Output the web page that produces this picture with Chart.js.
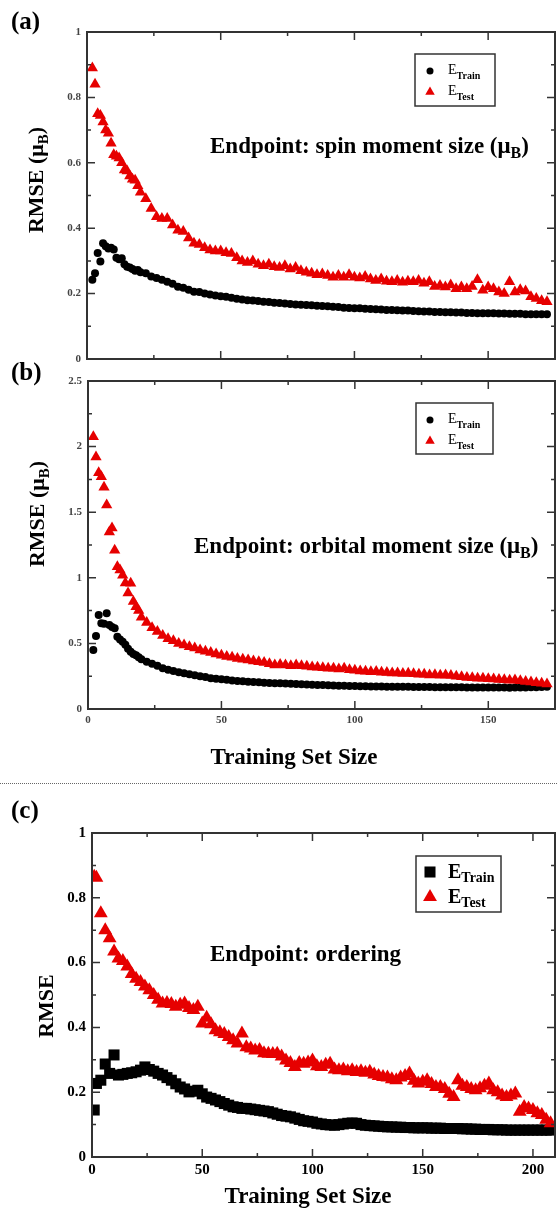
<!DOCTYPE html>
<html>
<head>
<meta charset="utf-8">
<script src="https://cdn.jsdelivr.net/npm/chart.js@4.4.1/dist/chart.umd.min.js"></script>
<style>
  body { margin: 0; background: #fff; width: 557px; height: 1212px; position: relative; overflow: hidden; }
  canvas.panel { position: absolute; left: 0; }
  #sep { position: absolute; left: 0; top: 783px; width: 557px; border-top: 1px dotted #666; }
</style>
</head>
<body>
<canvas id="chartA" class="panel" width="557" height="372" style="top:0"></canvas>
<canvas id="chartB" class="panel" width="557" height="430" style="top:345px"></canvas>
<div id="sep"></div>
<canvas id="chartC" class="panel" width="557" height="417" style="top:795px"></canvas>
<script>
// ==========================================
// 1. DATA
// ==========================================
// training set sizes used in panels (a) and (b)
const abSizes = [
  2, 3, 4, 5, 6, 7, 8, 9, 10, 11,
  12, 13, 14, 15, 16, 17, 18, 19, 20, 22,
  24, 26, 28, 30, 32, 34, 36, 38, 40, 42,
  44, 46, 48, 50, 52, 54, 56, 58, 60, 62,
  64, 66, 68, 70, 72, 74, 76, 78, 80, 82,
  84, 86, 88, 90, 92, 94, 96, 98, 100, 102,
  104, 106, 108, 110, 112, 114, 116, 118, 120, 122,
  124, 126, 128, 130, 132, 134, 136, 138, 140, 142,
  144, 146, 148, 150, 152, 154, 156, 158, 160, 162,
  164, 166, 168, 170, 172
];

// (a) spin moment size
const spinTest = [
  0.89, 0.84, 0.75, 0.745, 0.725, 0.70, 0.69, 0.66, 0.625, 0.62,
  0.615, 0.60, 0.578, 0.575, 0.56, 0.55, 0.547, 0.53, 0.51, 0.49,
  0.46, 0.435, 0.43, 0.43, 0.41, 0.394, 0.39, 0.37, 0.354, 0.35,
  0.34, 0.333, 0.33, 0.33, 0.325, 0.323, 0.31, 0.30, 0.295, 0.30,
  0.29, 0.285, 0.29, 0.282, 0.28, 0.285, 0.275, 0.28, 0.27, 0.265,
  0.262, 0.258, 0.26, 0.255, 0.25, 0.255, 0.25, 0.258, 0.25, 0.248,
  0.252, 0.245, 0.24, 0.245, 0.238, 0.236, 0.24, 0.235, 0.238, 0.236,
  0.24, 0.232, 0.236, 0.222, 0.225, 0.22, 0.226, 0.215, 0.22, 0.215,
  0.222, 0.242, 0.21, 0.22, 0.215, 0.205, 0.2, 0.236, 0.205, 0.212,
  0.208, 0.19, 0.185, 0.178, 0.175
];
const spinTrain = [
  0.242, 0.262, 0.324, 0.298, 0.354, 0.345, 0.338, 0.34, 0.335, 0.31,
  0.305, 0.308, 0.29, 0.282, 0.28, 0.275, 0.27, 0.272, 0.265, 0.262,
  0.252, 0.248, 0.242, 0.236, 0.23, 0.221, 0.218, 0.212, 0.206, 0.205,
  0.2, 0.197, 0.194, 0.192, 0.19, 0.187, 0.184, 0.182, 0.18, 0.179,
  0.177, 0.175, 0.174, 0.172, 0.171, 0.17, 0.168, 0.167, 0.166, 0.165,
  0.164, 0.163, 0.162, 0.161, 0.16, 0.159, 0.157, 0.156, 0.155, 0.155,
  0.154, 0.153, 0.152, 0.151, 0.15, 0.15, 0.149, 0.148, 0.148, 0.147,
  0.146, 0.145, 0.145, 0.144, 0.144, 0.143, 0.143, 0.142, 0.142, 0.141,
  0.141, 0.14, 0.14, 0.14, 0.14, 0.139, 0.139, 0.138, 0.138, 0.138,
  0.137, 0.137, 0.137, 0.137, 0.137
];

// (b) orbital moment size
const orbTest = [
  2.075, 1.92, 1.80, 1.77, 1.69, 1.555, 1.35, 1.38, 1.21, 1.085,
  1.06, 1.02, 0.96, 0.884, 0.958, 0.82, 0.78, 0.75, 0.70, 0.66,
  0.62, 0.59, 0.56, 0.535, 0.52, 0.50, 0.488, 0.475, 0.465, 0.45,
  0.44, 0.43, 0.42, 0.41, 0.40, 0.395, 0.385, 0.38, 0.373, 0.365,
  0.36, 0.355, 0.345, 0.335, 0.34, 0.335, 0.33, 0.335, 0.33, 0.325,
  0.32, 0.318, 0.315, 0.31, 0.31, 0.305, 0.31, 0.30, 0.295, 0.29,
  0.288, 0.284, 0.285, 0.28, 0.278, 0.275, 0.275, 0.27, 0.272, 0.268,
  0.265, 0.265, 0.26, 0.262, 0.258, 0.259, 0.255, 0.25, 0.245, 0.24,
  0.238, 0.234, 0.235, 0.23, 0.228, 0.225, 0.222, 0.22, 0.221, 0.215,
  0.21, 0.205, 0.2, 0.196, 0.19
];
const orbTrain = [
  0.45, 0.556, 0.716, 0.653, 0.65, 0.729, 0.64, 0.625, 0.615, 0.551,
  0.53, 0.513, 0.49, 0.46, 0.437, 0.42, 0.41, 0.395, 0.38, 0.361,
  0.345, 0.33, 0.31, 0.30, 0.29, 0.28, 0.272, 0.265, 0.258, 0.25,
  0.243, 0.234, 0.23, 0.226, 0.222, 0.218, 0.214, 0.211, 0.208, 0.205,
  0.203, 0.2, 0.198, 0.197, 0.196, 0.195, 0.193, 0.19, 0.189, 0.187,
  0.185, 0.183, 0.182, 0.181, 0.18, 0.178, 0.177, 0.176, 0.175, 0.174,
  0.173, 0.172, 0.171, 0.171, 0.17, 0.17, 0.17, 0.169, 0.169, 0.168,
  0.168, 0.167, 0.167, 0.166, 0.166, 0.165, 0.165, 0.165, 0.165, 0.164,
  0.164, 0.164, 0.163, 0.163, 0.163, 0.163, 0.163, 0.162, 0.163, 0.163,
  0.164, 0.165, 0.166, 0.168, 0.17
];

// (c) ordering
const ordSizes = [
  1, 2, 4, 6, 8, 10, 12, 14, 16, 18,
  20, 22, 24, 26, 28, 30, 32, 34, 36, 38,
  40, 42, 44, 46, 48, 50, 52, 54, 56, 58,
  60, 62, 64, 66, 68, 70, 72, 74, 76, 78,
  80, 82, 84, 86, 88, 90, 92, 94, 96, 98,
  100, 102, 104, 106, 108, 110, 112, 114, 116, 118,
  120, 122, 124, 126, 128, 130, 132, 134, 136, 138,
  140, 142, 144, 146, 148, 150, 152, 154, 156, 158,
  160, 162, 164, 166, 168, 170, 172, 174, 176, 178,
  180, 182, 184, 186, 188, 190, 192, 194, 196, 198,
  200, 202, 204, 206, 208
];
const ordTest = [
  0.865, 0.862, 0.752, 0.70, 0.675, 0.634, 0.613, 0.605, 0.588, 0.565,
  0.55, 0.54, 0.526, 0.515, 0.50, 0.485, 0.474, 0.475, 0.472, 0.464,
  0.47, 0.474, 0.46, 0.454, 0.464, 0.412, 0.43, 0.41, 0.391, 0.385,
  0.38, 0.37, 0.36, 0.35, 0.381, 0.339, 0.335, 0.329, 0.33, 0.32,
  0.319, 0.318, 0.319, 0.31, 0.298, 0.29, 0.278, 0.29, 0.288, 0.292,
  0.298, 0.28, 0.278, 0.285, 0.288, 0.27, 0.268, 0.27, 0.265, 0.268,
  0.262, 0.265, 0.26, 0.263, 0.255, 0.25, 0.247, 0.245, 0.24, 0.237,
  0.245, 0.25, 0.258, 0.235, 0.227, 0.232, 0.237, 0.225, 0.216, 0.216,
  0.21, 0.195, 0.185, 0.237, 0.22, 0.216, 0.21, 0.206, 0.212, 0.22,
  0.227, 0.206, 0.2, 0.19, 0.185, 0.19, 0.196, 0.14, 0.154, 0.15,
  0.145, 0.135, 0.13, 0.115, 0.104
];
const ordTrain = [
  0.145, 0.227, 0.237, 0.287, 0.258, 0.315, 0.253, 0.255, 0.258, 0.26,
  0.263, 0.268, 0.278, 0.27, 0.265, 0.258, 0.253, 0.245, 0.237, 0.226,
  0.216, 0.21, 0.201, 0.203, 0.206, 0.195, 0.185, 0.181, 0.176, 0.171,
  0.165, 0.16, 0.155, 0.153, 0.15, 0.15, 0.148, 0.146, 0.144, 0.142,
  0.14, 0.136, 0.132, 0.128, 0.126, 0.124, 0.12, 0.116, 0.112, 0.11,
  0.108, 0.104, 0.102, 0.1, 0.099, 0.098, 0.1, 0.102, 0.104, 0.105,
  0.104, 0.1, 0.098, 0.097, 0.096, 0.095, 0.094, 0.093, 0.093, 0.092,
  0.092, 0.091, 0.091, 0.09, 0.09, 0.09, 0.09, 0.089, 0.089, 0.089,
  0.088, 0.088, 0.088, 0.088, 0.087, 0.087, 0.086, 0.086, 0.085, 0.085,
  0.085, 0.084, 0.084, 0.084, 0.083, 0.083, 0.083, 0.083, 0.083, 0.083,
  0.083, 0.083, 0.083, 0.083, 0.083
];

// ==========================================
// 2. HELPERS
// ==========================================
const SERIF = '"Liberation Serif", "Times New Roman", serif';
const RED = '#e60000';
const font = (px, bold = true) => `${bold ? 'bold ' : ''}${px}px ${SERIF}`;

function toPoints(xs, ys) {
  return xs.map((x, i) => ({ x: x, y: ys[i] }));
}

// draws text made of pieces [text, font, dy] (used for subscripts)
function drawRich(ctx, parts, x, y, opts = {}) {
  ctx.save();
  ctx.translate(x, y);
  if (opts.rotate) ctx.rotate(-Math.PI / 2);
  ctx.textAlign = 'left';
  ctx.textBaseline = 'alphabetic';
  ctx.fillStyle = '#000';
  let w = 0;
  parts.forEach(p => { ctx.font = p[1]; w += ctx.measureText(p[0]).width; });
  let cx = opts.center ? -w / 2 : 0;
  parts.forEach(p => {
    ctx.font = p[1];
    ctx.fillText(p[0], cx, p[2] || 0);
    cx += ctx.measureText(p[0]).width;
  });
  ctx.restore();
}

function drawMarker(ctx, style, x, y, r, color) {
  ctx.fillStyle = color;
  ctx.beginPath();
  if (style === 'circle') {
    ctx.arc(x, y, r, 0, Math.PI * 2);
  } else if (style === 'rect') {
    const s = r * Math.SQRT1_2;
    ctx.rect(x - s, y - s, 2 * s, 2 * s);
  } else {
    ctx.moveTo(x, y - r);
    ctx.lineTo(x + r * 0.866, y + r * 0.5);
    ctx.lineTo(x - r * 0.866, y + r * 0.5);
    ctx.closePath();
  }
  ctx.fill();
}

// frame, inward ticks, titles, annotation and legend box of each panel
const panelDeco = {
  id: 'panelDeco',
  afterDraw(chart, args, o) {
    const ctx = chart.ctx;
    const a = chart.chartArea;
    const xs = chart.scales.x;
    const ys = chart.scales.y;

    const marks = (scale, minor) => {
      const major = scale.ticks.map(t => t.value);
      const out = major.map(v => [v, 8]);
      for (let i = 0; ; i++) {
        const v = scale.min + i * minor;
        if (v > scale.max + 1e-9) break;
        if (!major.some(m => Math.abs(m - v) < 1e-9)) out.push([v, 4]);
      }
      return out;
    };

    ctx.save();
    ctx.strokeStyle = '#333';
    ctx.lineWidth = 1.5;
    ctx.beginPath();
    marks(xs, o.xMinor).forEach(([v, len]) => {
      const px = xs.getPixelForValue(v);
      if (px <= a.left + 1 || px >= a.right - 1) return;
      ctx.moveTo(px, a.bottom); ctx.lineTo(px, a.bottom - len);
      ctx.moveTo(px, a.top); ctx.lineTo(px, a.top + len);
    });
    marks(ys, o.yMinor).forEach(([v, len]) => {
      const py = ys.getPixelForValue(v);
      if (py <= a.top + 1 || py >= a.bottom - 1) return;
      ctx.moveTo(a.left, py); ctx.lineTo(a.left + len, py);
      ctx.moveTo(a.right, py); ctx.lineTo(a.right - len, py);
    });
    ctx.stroke();
    ctx.lineWidth = 2;
    ctx.strokeRect(a.left, a.top, a.width, a.height);

    // everything below is placed in page coordinates
    ctx.translate(0, -o.top);

    drawRich(ctx, [[o.label.text, font(25)]], o.label.x, o.label.y);
    drawRich(ctx, o.yTitle.parts, o.yTitle.x, o.yTitle.y, { rotate: true, center: true });
    drawRich(ctx, o.note.parts, o.note.x, o.note.y);
    if (o.xTitle) {
      drawRich(ctx, [['Training Set Size', font(23)]], o.xTitle.x, o.xTitle.y, { center: true });
    }

    const lg = o.legend;
    ctx.strokeStyle = '#333';
    ctx.lineWidth = 1.5;
    ctx.strokeRect(lg.box[0], lg.box[1], lg.box[2], lg.box[3]);
    chart.data.datasets.forEach((ds, i) => {
      const row = lg.rows[i];
      drawMarker(ctx, ds.pointStyle, lg.mx, row.my, row.r, ds.backgroundColor);
      drawRich(ctx, [['E', lg.eFont, lg.eDy], [row.sub, lg.subFont, lg.subDy]], lg.ex, row.my);
    });
    ctx.restore();
  }
};

// "1", "0.8", "2.5" ... as in the original axes
const plainNumber = (v) => String(Number(v.toFixed(2)));

function makePanel(id, sizes, train, test, cfg) {
  return new Chart(document.getElementById(id), {
    type: 'scatter',
    data: {
      datasets: [
        {
          label: 'E Train',
          data: toPoints(sizes, train),
          pointStyle: cfg.trainStyle,
          pointRadius: cfg.trainR,
          backgroundColor: '#000',
          borderColor: '#000',
          borderWidth: 0,
          order: 1
        },
        {
          label: 'E Test',
          data: toPoints(sizes, test),
          pointStyle: 'triangle',
          pointRadius: cfg.testR,
          backgroundColor: RED,
          borderColor: RED,
          borderWidth: 0,
          order: 0
        }
      ]
    },
    options: {
      responsive: false,
      animation: false,
      events: [],
      // no automatic room for marker overflow: the plot box is fixed by padding
      layout: { padding: cfg.padding, autoPadding: false },
      plugins: {
        legend: { display: false },
        tooltip: { enabled: false },
        panelDeco: cfg.deco
      },
      scales: {
        x: {
          type: 'linear',
          min: 0,
          max: cfg.xMax,
          bounds: 'data',
          grid: { display: false, drawTicks: false },
          border: { display: false },
          ticks: {
            display: cfg.xLabels,
            stepSize: 50,
            maxRotation: 0,
            padding: cfg.xPad,
            color: cfg.tickColor,
            font: { family: SERIF, size: cfg.tickSize, weight: 'bold' },
            callback: plainNumber
          },
          // only the round sizes carry a label, not the axis end
          afterBuildTicks: (s) => { s.ticks = s.ticks.filter(t => t.value % 50 === 0); },
          afterFit: (s) => {
            s.height = cfg.xH;
            s.paddingLeft = 0;
            s.paddingRight = 0;
          }
        },
        y: {
          type: 'linear',
          min: 0,
          max: cfg.yMax,
          bounds: 'data',
          grid: { display: false, drawTicks: false },
          border: { display: false },
          ticks: {
            stepSize: cfg.yStep,
            padding: cfg.yPad,
            color: cfg.tickColor,
            font: { family: SERIF, size: cfg.tickSize, weight: 'bold' },
            callback: plainNumber
          },
          afterFit: (s) => {
            s.width = 40;
            s.paddingTop = 0;
            s.paddingBottom = 0;
          }
        }
      }
    },
    plugins: [panelDeco]
  });
}

const rmseMuB = [['RMSE (\u03bc', font(22)], ['B', font(15), 5], [')', font(22)]];

// ==========================================
// 3. PANELS
// ==========================================
makePanel('chartA', abSizes, spinTrain, spinTest, {
  trainStyle: 'circle', trainR: 4, testR: 6.5,
  xMax: 175, yMax: 1, yStep: 0.2, xLabels: false,
  tickSize: 11, tickColor: '#444', xPad: 5, yPad: 6, xH: 10,
  padding: { left: 47, right: 2, top: 32, bottom: 3 },
  deco: {
    top: 0, xMinor: 25, yMinor: 0.1,
    label: { text: '(a)', x: 11, y: 29 },
    yTitle: { parts: rmseMuB, x: 43, y: 180 },
    note: { parts: [['Endpoint: spin moment size (\u03bc', font(23)], ['B', font(16), 5], [')', font(23)]], x: 210, y: 153 },
    legend: {
      box: [415, 54, 80, 52], mx: 430, ex: 448,
      eFont: font(14, false), eDy: 3, subFont: font(10), subDy: 8,
      rows: [{ my: 71, r: 3.5, sub: 'Train' }, { my: 92, r: 5.5, sub: 'Test' }]
    }
  }
});

makePanel('chartB', abSizes, orbTrain, orbTest, {
  trainStyle: 'circle', trainR: 4, testR: 6.5,
  xMax: 175, yMax: 2.5, yStep: 0.5, xLabels: true,
  tickSize: 11, tickColor: '#444', xPad: 5, yPad: 6, xH: 26,
  padding: { left: 48, right: 2, top: 36, bottom: 40 },
  deco: {
    top: 345, xMinor: 25, yMinor: 0.25,
    label: { text: '(b)', x: 11, y: 380 },
    yTitle: { parts: rmseMuB, x: 44, y: 514 },
    note: { parts: [['Endpoint: orbital moment size (\u03bc', font(23)], ['B', font(16), 5], [')', font(23)]], x: 194, y: 553 },
    xTitle: { x: 294, y: 764 },
    legend: {
      box: [416, 403, 77, 51], mx: 430, ex: 448,
      eFont: font(14, false), eDy: 3, subFont: font(10), subDy: 8,
      rows: [{ my: 420, r: 3.5, sub: 'Train' }, { my: 441, r: 5.5, sub: 'Test' }]
    }
  }
});

makePanel('chartC', ordSizes, ordTrain, ordTest, {
  trainStyle: 'rect', trainR: 7.8, testR: 8,
  xMax: 210, yMax: 1, yStep: 0.2, xLabels: true,
  tickSize: 15, tickColor: '#000', xPad: 4, yPad: 6, xH: 25,
  padding: { left: 52, right: 2, top: 38, bottom: 30 },
  deco: {
    top: 795, xMinor: 25, yMinor: 0.1,
    label: { text: '(c)', x: 11, y: 818 },
    yTitle: { parts: [['RMSE', font(22)]], x: 53, y: 1006 },
    note: { parts: [['Endpoint: ordering', font(23)]], x: 210, y: 961 },
    xTitle: { x: 308, y: 1203 },
    legend: {
      box: [416, 856, 85, 56], mx: 430, ex: 448,
      eFont: font(20), eDy: 6, subFont: font(14), subDy: 10,
      rows: [{ my: 872, r: 7.8, sub: 'Train' }, { my: 897, r: 8, sub: 'Test' }]
    }
  }
});
</script>
</body>
</html>
